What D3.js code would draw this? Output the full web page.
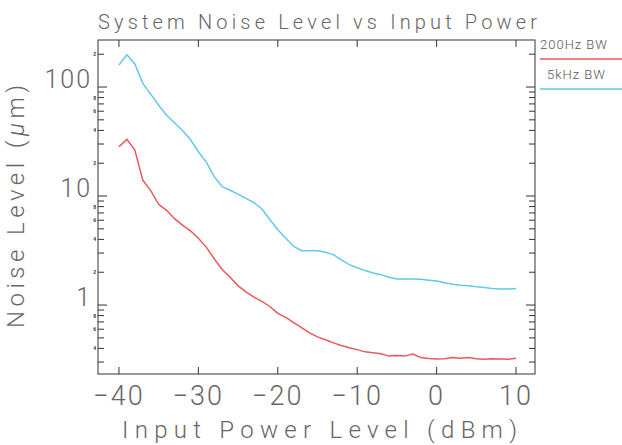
<!DOCTYPE html>
<html>
<head>
<meta charset="utf-8">
<script src="https://cdn.jsdelivr.net/npm/d3@7"></script>
<style>
  body { margin: 0; background: #fff; }
  text { font-family: Roboto, "DejaVu Sans", sans-serif; font-weight: 300; fill: #666; }
</style>
</head>
<body>
<div id="chart"></div>
<script>
// Input power (dBm), one point per dB
var power = d3.range(-40, 11);

// 200Hz BW noise level (um)
var noise200 = [28.3, 33.1, 26.4, 14.0, 11.2, 8.4, 7.4, 6.2, 5.4, 4.8,
  4.1, 3.4, 2.65, 2.12, 1.8, 1.5, 1.32, 1.18, 1.08, 0.97,
  0.84, 0.77, 0.69, 0.62, 0.555, 0.51, 0.48, 0.45, 0.425, 0.405,
  0.39, 0.372, 0.365, 0.358, 0.34, 0.345, 0.34, 0.355, 0.33, 0.323,
  0.32, 0.322, 0.33, 0.325, 0.33, 0.322, 0.318, 0.322, 0.32, 0.318, 0.325];

// 5kHz BW noise level (um)
var noise5k = [159, 198, 163, 108, 86, 68, 55, 47, 40, 33,
  25.5, 20.5, 15, 12.2, 11.3, 10.4, 9.5, 8.7, 7.6, 6.1,
  4.9, 4.1, 3.45, 3.15, 3.15, 3.15, 3.05, 2.9, 2.6, 2.35,
  2.2, 2.07, 1.97, 1.9, 1.8, 1.73, 1.73, 1.73, 1.72, 1.69,
  1.66, 1.6, 1.55, 1.52, 1.5, 1.47, 1.45, 1.42, 1.4, 1.4, 1.42];

var seriesNames = ["200Hz BW", "5kHz BW"];
var seriesColors = ["#e8585a", "#62c9e6"];

var xTicks = [-40, -30, -20, -10, 0, 10];
var yMajor = [1, 10, 100];

var svgWidth = 622;
var svgHeight = 445;
var margin = { top: 40, right: 87, bottom: 71, left: 98 };
var width = svgWidth - margin.left - margin.right;
var height = svgHeight - margin.top - margin.bottom;

var svg = d3.select("#chart")
  .append("svg")
  .attr("width", svgWidth)
  .attr("height", svgHeight);

var chartGroup = svg.append("g")
  .attr("transform", `translate(${margin.left}, ${margin.top})`);

var xScale = d3.scaleLinear()
  .domain([-42.64, 12.39])
  .range([0, width]);

var yScale = d3.scaleLog()
  .domain([0.233, 270])
  .range([height, 0]);

// minor tick values for the log axis
var yMinor = [];
[0.1, 1, 10, 100].forEach(function(dec) {
  for (var k = 2; k <= 9; k++) {
    var v = dec * k;
    if (v >= 0.233 && v <= 270) yMinor.push(v);
  }
});

// frame
chartGroup.append("rect")
  .attr("width", width)
  .attr("height", height)
  .attr("fill", "none")
  .attr("stroke", "#333")
  .attr("stroke-width", 1);

// x ticks, bottom and top (inward)
chartGroup.selectAll(".xtb")
  .data(xTicks)
  .enter()
  .append("line")
  .attr("x1", d => xScale(d)).attr("x2", d => xScale(d))
  .attr("y1", height).attr("y2", height - 7)
  .attr("stroke", "#333");

chartGroup.selectAll(".xtt")
  .data(xTicks)
  .enter()
  .append("line")
  .attr("x1", d => xScale(d)).attr("x2", d => xScale(d))
  .attr("y1", 0).attr("y2", 7)
  .attr("stroke", "#333");

chartGroup.selectAll(".xlab")
  .data(xTicks)
  .enter()
  .append("text")
  .attr("x", d => xScale(d))
  .attr("y", height + 31)
  .attr("text-anchor", "middle")
  .style("font-size", "27px")
  .style("letter-spacing", "2px")
  .text(d => d < 0 ? "\u2212" + Math.abs(d) : d);

// y ticks, left and right (inward)
var yAll = yMajor.concat(yMinor);
chartGroup.selectAll(".ytl")
  .data(yAll)
  .enter()
  .append("line")
  .attr("x1", 0).attr("x2", d => yMajor.indexOf(d) >= 0 ? 9 : 6)
  .attr("y1", d => yScale(d)).attr("y2", d => yScale(d))
  .attr("stroke", "#333");

chartGroup.selectAll(".ytr")
  .data(yAll)
  .enter()
  .append("line")
  .attr("x1", width).attr("x2", d => width - (yMajor.indexOf(d) >= 0 ? 9 : 6))
  .attr("y1", d => yScale(d)).attr("y2", d => yScale(d))
  .attr("stroke", "#333");

chartGroup.selectAll(".ylab")
  .data(yMajor)
  .enter()
  .append("text")
  .attr("x", -6)
  .attr("y", d => yScale(d) + 1)
  .attr("text-anchor", "end")
  .style("font-size", "25px")
  .style("letter-spacing", "2px")
  .text(d => d);

// tiny minor labels
var leading = d => Math.round(d / Math.pow(10, Math.floor(Math.log10(d) + 1e-9)));
chartGroup.selectAll(".ymin")
  .data(yMinor.filter(d => [2, 4, 6, 8].indexOf(leading(d)) >= 0))
  .enter()
  .append("text")
  .attr("x", -2)
  .attr("y", d => yScale(d) + 2)
  .attr("text-anchor", "end")
  .style("font-size", "5px")
  .style("font-weight", "700")
  .style("fill", "#333")
  .text(d => leading(d));

// lines
var line = d3.line()
  .x(d => xScale(d[0]))
  .y(d => yScale(d[1]));

[noise200, noise5k].forEach(function(vals, i) {
  chartGroup.append("path")
    .datum(power.map((p, j) => [p, vals[j]]))
    .attr("d", line)
    .attr("fill", "none")
    .attr("stroke", seriesColors[i])
    .attr("stroke-width", 1.5);
});

// legend, to the right of the frame
var legendY = [0, 30];
seriesNames.forEach(function(name, i) {
  svg.append("text")
    .attr("x", i == 0 ? 540 : 547)
    .attr("y", 49 + legendY[i])
    .style("font-size", "13px")
    .style("letter-spacing", "1px")
    .style("fill", "#555")
    .text(name);
  svg.append("line")
    .attr("x1", 540).attr("x2", 622)
    .attr("y1", 59 + legendY[i]).attr("y2", 59 + legendY[i])
    .attr("stroke", seriesColors[i])
    .attr("stroke-width", 1.5);
});

// title and axis titles
svg.append("text")
  .attr("x", 98)
  .attr("y", 29)
  .attr("textLength", 439)
  .attr("lengthAdjust", "spacing")
  .style("font-size", "20px")
  .text("System Noise Level vs Input Power");

svg.append("text")
  .attr("x", 122)
  .attr("y", 438)
  .attr("textLength", 395)
  .attr("lengthAdjust", "spacing")
  .style("font-size", "24px")
  .text("Input Power Level (dBm)");

svg.append("text")
  .attr("transform", "translate(24, 328) rotate(-90)")
  .attr("textLength", 243)
  .attr("lengthAdjust", "spacing")
  .style("font-size", "24px")
  .html("Noise Level (<tspan font-style='italic'>\u03bc</tspan>m)");
</script>
</body>
</html>
